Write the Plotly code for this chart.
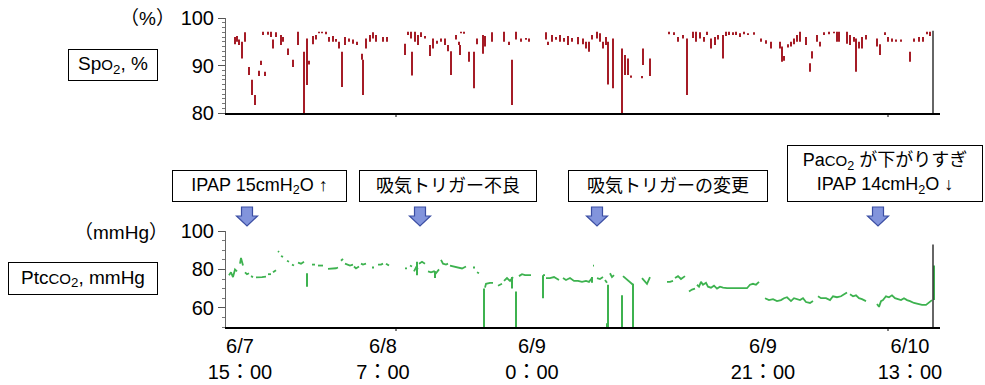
import plotly.graph_objects as go

# ---------------- data ----------------
# time axis: sample position (0 = start of record, 707 = end of record)
tick_pos = [14, 157, 306, 537, 684]
tick_text = ["6/7<br>15：00", "6/8<br>7：00", "6/9<br>0：00", "6/9<br>21：00", "6/10<br>13：00"]
tick_marks = [170, 662]
record_end = 707

# SpO2 (%): each reading drawn as a vertical range (t, low, high)
spo2_t = [9, 11, 13, 16, 19, 23, 26, 29, 33, 35, 37, 39, 42, 45, 47, 50, 55, 57, 62, 67,
          72, 78, 81, 83, 87, 90, 93, 96, 100, 103, 107, 110, 113, 116, 119, 123, 127, 131, 136, 137,
          140, 144, 147, 150, 157, 161, 179, 182, 185, 186, 189, 192, 195, 199, 204, 207, 211, 215, 219, 222,
          225, 230, 233, 234, 235, 238, 243, 248, 251, 257, 259, 266, 278, 283, 286, 290, 295, 300, 303, 320,
          322, 326, 330, 334, 338, 342, 346, 352, 357, 360, 363, 366, 371, 374, 377, 380, 382, 387, 396, 399,
          402, 405, 416, 417, 424, 443, 448, 452, 457, 461, 467, 470, 474, 478, 481, 485, 489, 492, 497, 500,
          503, 507, 510, 514, 518, 522, 528, 535, 540, 545, 554, 556, 558, 562, 565, 568, 571, 574, 580, 584,
          586, 591, 594, 598, 603, 608, 611, 613, 621, 624, 628, 630, 633, 636, 640, 651, 654, 659, 662, 666,
          670, 675, 684, 688, 693, 697, 701, 704]
spo2_low = [94.5, 95.0, 94.3, 91.5, 95.0, 88.0, 83.8, 81.7, 87.8, 90.1, 96.4, 87.8, 96.5, 96.0, 93.6, 96.0, 94.3, 95.0, 92.2, 89.7,
            94.3, 80.0, 85.9, 90.2, 94.5, 95.5, 96.8, 96.8, 96.6, 95.0, 95.0, 95.0, 93.6, 85.5, 94.3, 95.0, 94.6, 94.3, 91.2, 83.8,
            93.6, 95.0, 95.7, 95.0, 95.0, 95.0, 92.2, 96.4, 95.7, 87.9, 95.0, 94.3, 96.0, 95.7, 92.0, 93.6, 94.6, 95.0, 94.3, 93.0,
            88.0, 95.5, 94.3, 92.2, 96.8, 96.7, 90.8, 85.2, 94.5, 92.5, 94.0, 95.0, 95.0, 94.3, 81.7, 95.5, 95.0, 95.4, 95.0, 95.5,
            94.3, 95.0, 95.4, 95.0, 95.0, 94.3, 95.0, 94.5, 94.5, 93.6, 92.9, 95.5, 95.7, 95.0, 93.6, 94.3, 86.0, 85.2, 80.0, 88.0,
            88.0, 87.4, 87.3, 90.1, 87.8, 96.6, 96.4, 95.0, 95.7, 83.8, 95.8, 95.0, 95.7, 95.0, 96.4, 93.6, 94.3, 95.5, 91.5, 96.2,
            96.4, 96.4, 96.4, 96.0, 96.6, 96.4, 96.5, 95.0, 94.6, 93.6, 93.6, 90.8, 91.0, 93.8, 94.0, 94.5, 95.0, 95.0, 94.3, 88.7,
            91.5, 95.0, 94.0, 96.4, 96.6, 96.8, 95.0, 95.0, 94.6, 94.3, 95.0, 88.7, 93.6, 93.6, 95.5, 94.0, 92.2, 96.4, 95.0, 95.0,
            95.0, 95.0, 90.8, 95.0, 95.0, 95.0, 96.6, 96.2]
spo2_high = [96.0, 96.2, 95.5, 95.0, 97.0, 89.7, 87.0, 83.8, 88.9, 91.0, 97.1, 88.7, 97.1, 97.1, 95.5, 97.0, 96.4, 96.0, 93.6, 91.2,
             97.1, 92.9, 95.7, 91.0, 96.2, 96.4, 97.1, 97.1, 97.1, 96.0, 96.2, 95.6, 95.0, 92.9, 96.0, 95.7, 95.5, 95.0, 92.5, 91.2,
             95.7, 96.4, 97.0, 96.4, 96.0, 96.0, 94.6, 97.1, 97.1, 92.9, 97.1, 96.4, 97.0, 96.2, 94.3, 95.7, 95.2, 95.7, 95.7, 94.3,
             93.0, 96.4, 95.0, 94.3, 97.1, 97.1, 92.9, 92.9, 95.7, 96.4, 96.2, 97.0, 97.1, 95.0, 91.2, 97.1, 95.7, 95.8, 95.7, 97.0,
             95.0, 96.4, 96.0, 96.4, 95.8, 96.2, 95.8, 96.0, 95.7, 95.0, 95.0, 96.4, 97.1, 96.8, 95.0, 96.0, 95.0, 95.7, 93.6, 92.2,
             91.5, 87.9, 87.8, 93.6, 91.5, 97.1, 97.0, 96.0, 96.4, 95.7, 97.1, 97.1, 97.0, 96.0, 97.1, 95.7, 96.0, 96.4, 96.4, 97.1,
             97.1, 97.0, 97.1, 96.8, 97.1, 96.8, 97.0, 95.7, 95.3, 95.0, 95.0, 94.0, 92.0, 94.5, 95.0, 95.7, 96.4, 97.1, 96.0, 90.5,
             93.0, 96.4, 95.0, 97.0, 97.1, 97.1, 97.1, 97.1, 97.1, 96.4, 96.0, 95.7, 95.0, 96.0, 96.4, 95.7, 94.5, 97.0, 96.0, 95.7,
             95.5, 95.5, 92.9, 95.7, 96.0, 96.0, 97.1, 97.1]

# PtcCO2 (mmHg): (t, value) readings, None = gap in the recording
ptc_points = [
    (3, 77), (5, 78.5), (7, 76), (9, 80), (11, 79), None,
    (14, 83), (15, 86), (16, 84), (17, 82), None,
    (19, 78.5), (21, 77.5), (23, 78), None,
    (25, 76.5), (27, 76), None,
    (30, 75.8), (34, 75.8), (36, 76), (40, 76.2), None,
    (42, 77.5), (45, 77.5), None,
    (47, 78.5), (50, 79.5), None,
    (52, 89.5), (53, 89), None,
    (55, 87), (57, 86.5), None,
    (61, 84.5), (63, 84), None,
    (66, 82.5), (68, 82), None,
    (72, 83.5), (75, 83), (78, 84), None,
    (86, 82.5), (89, 82.5), None,
    (92, 82), (97, 82), None,
    (102, 80.3), (107, 80.3), (110, 80.6), (112, 81), None,
    (115, 84.5), (117, 85.5), None,
    (119, 83), (121, 82.5), (124, 82), (127, 82.5), None,
    (128, 81.5), (130, 80.5), (133, 81.5), None,
    (135, 83), (137, 82.5), (140, 83), None,
    (146, 81), (148, 81), None,
    (152, 82.5), (155, 82.5), (157, 83), None,
    (160, 83), (163, 82), None,
    (179, 80.5), (181, 80.5), None,
    (184, 82), (186, 81.5), None,
    (188, 79), (190, 81), (192, 80), None,
    (193, 83), (196, 84), (199, 83), None,
    (202, 79), (205, 78.5), (208, 79), (210, 78), (213, 80), None,
    (215, 85), (217, 83), (220, 82.5), (222, 83), None,
    (224, 82), (228, 81.5), (232, 81), (236, 80.5), (240, 81.5), None,
    (247, 81), (249, 81), None,
    (251, 78.5), (253, 78), None,
    (259, 70.5), (260, 72.5), (264, 73), (267, 73), None,
    (272, 71.5), (276, 72.5), None,
    (278, 74), (281, 75.5), (284, 74), (287, 76), None,
    (293, 76.5), (296, 77.5), (299, 77), (302, 77), (305, 77), None,
    (317, 77), (319, 77), None,
    (320, 75.5), (324, 75.5), (328, 76), (331, 75), (333, 74.5), None,
    (337, 75.5), (340, 74.5), (344, 75.5), (348, 74), (352, 74), (356, 73.5), (360, 74), (363, 73.5), (366, 75.5), None,
    (367, 82), (368, 82), None,
    (371, 75.5), (374, 75), (377, 76), None,
    (379, 74.5), (381, 73), None,
    (384, 78), (386, 76), (388, 77), None,
    (397, 76.5), (400, 75), (403, 74), (407, 72), None,
    (416, 75.5), (419, 74), (421, 72.5), (424, 76), None,
    (441, 73.5), (444, 73.5), (447, 74), None,
    (449, 75.5), (452, 76.5), (455, 75), (459, 76.5), None,
    (463, 68.5), (466, 69.5), (469, 70), None,
    (471, 72), (473, 71), (475, 73.5), (477, 72), (480, 73), (482, 71), (485, 70.5), (488, 71.5), (491, 70),
    (494, 71), (497, 70.5), (501, 70.2), (510, 70.2), (521, 70.2), (524, 72), (527, 72.5), (530, 72), (533, 73.5), None,
    (539, 65), (543, 64), (547, 64.5), (551, 63.5), (555, 64), (558, 65), (561, 65.5), (565, 63.5), (568, 65),
    (571, 64.5), (574, 64), (577, 65), (580, 63), (584, 62.5), (587, 63.5), None,
    (592, 66), (595, 65), (600, 65), (604, 64), (607, 66), (611, 65.5), (615, 66), (618, 67), (621, 68), None,
    (624, 67), (627, 66), (630, 66.5), (633, 65), (636, 64.5), (640, 63.5), None,
    (651, 62), (653, 60.5), (655, 63.5), (657, 64), (660, 66), (663, 65.5), (666, 66.5), (669, 65), (672, 64.5),
    (675, 64), (678, 65), (681, 64), (684, 63.5), (688, 62.5), (692, 62), (696, 61.5), (700, 61.5), (703, 63), (706, 64),
]
# PtcCO2 sudden drops (sensor artefacts), vertical ranges
ptc_drop_t = [81, 191, 209, 258, 286, 290, 317, 366, 381, 382, 396, 407, 708]
ptc_drop_low = [71, 77, 75.5, 50, 70, 50, 65, 73, 50, 50, 50, 50, 64]
ptc_drop_high = [78, 84, 79, 70, 76, 68.5, 77, 76, 52, 72, 66.5, 72.5, 82]

# events (interventions)
event_t = [21, 194, 371, 652]
event_text = [
    "IPAP 15cmH<sub>2</sub>O ↑",
    "吸気トリガー不良",
    "吸気トリガーの変更",
    "Pa<span style='font-size:15px'>CO</span><sub>2</sub> が下がりすぎ<br>IPAP 14cmH<sub>2</sub>O ↓",
]

# ---------------- build ----------------
def seg_xy(ts, lows, highs):
    xs, ys = [], []
    for t, lo, hi in zip(ts, lows, highs):
        xs += [t, t, None]
        ys += [lo, hi, None]
    return xs, ys

RED = "#a51c26"
GREEN = "#3db24f"
FONT = "Liberation Sans, Noto Sans CJK JP, sans-serif"

fig = go.Figure()
sx, sy = seg_xy(spo2_t, spo2_low, spo2_high)
fig.add_trace(go.Scatter(x=sx, y=sy, mode="lines", line=dict(color=RED, width=2),
                         xaxis="x", yaxis="y", hoverinfo="skip"))

px_ = [p[0] if p else None for p in ptc_points]
py_ = [p[1] if p else None for p in ptc_points]
fig.add_trace(go.Scatter(x=px_, y=py_, mode="lines", line=dict(color=GREEN, width=1.8),
                         xaxis="x2", yaxis="y2", connectgaps=False, hoverinfo="skip"))
dx, dy = seg_xy(ptc_drop_t, ptc_drop_low, ptc_drop_high)
fig.add_trace(go.Scatter(x=dx, y=dy, mode="lines", line=dict(color=GREEN, width=2),
                         xaxis="x2", yaxis="y2", hoverinfo="skip"))

TOP_BOT = 1 - 95 / 309
BOT_TOP = 1 - 213 / 309

axis_common = dict(showgrid=False, zeroline=False, automargin=False)
fig.update_layout(
    width=985, height=385,
    margin=dict(l=226, r=45, t=18, b=58),
    paper_bgcolor="white", plot_bgcolor="white",
    showlegend=False,
    font=dict(family=FONT, color="black", size=20),
    xaxis=dict(range=[0, 714], anchor="y", showline=True, linecolor="black", linewidth=2,
               showticklabels=False, ticks="", **axis_common),
    xaxis2=dict(range=[0, 714], anchor="y2", showline=True, linecolor="black", linewidth=2,
                tickmode="array", tickvals=tick_pos, ticktext=tick_text, ticks="",
                tickfont=dict(size=20, family=FONT), ticklabelstandoff=0, **axis_common),
    yaxis=dict(domain=[TOP_BOT, 1], range=[80, 100], tickmode="array", tickvals=[80, 90, 100],
               ticks="outside", ticklen=7, tickcolor="#555", showline=True, linecolor="#666", linewidth=1,
               tickfont=dict(size=20),
               minor=dict(tickmode="linear", tick0=80, dtick=1, ticks="outside", ticklen=3, tickcolor="#777"),
               **axis_common),
    yaxis2=dict(domain=[0, BOT_TOP], range=[50, 100], tickmode="array", tickvals=[60, 80, 100],
                ticks="outside", ticklen=7, tickcolor="#555", showline=True, linecolor="#666", linewidth=1,
                tickfont=dict(size=20),
                minor=dict(tickmode="linear", tick0=50, dtick=5, ticks="outside", ticklen=3, tickcolor="#777"),
                **axis_common),
)

shapes = []
# tick marks on the time axes
for t in tick_marks:
    shapes.append(dict(type="line", xref="x", yref="paper", x0=t, x1=t, y0=TOP_BOT, y1=TOP_BOT - 4 / 309,
                       line=dict(color="black", width=1)))
    shapes.append(dict(type="line", xref="x2", yref="paper", x0=t, x1=t, y0=0, y1=-4 / 309,
                       line=dict(color="black", width=1)))
# end-of-record lines
shapes.append(dict(type="line", xref="x", yref="y", x0=record_end, x1=record_end, y0=80, y1=97.3,
                   line=dict(color="#333", width=1.5)))
shapes.append(dict(type="line", xref="x2", yref="y2", x0=record_end, x1=record_end, y0=50, y1=93,
                   line=dict(color="#333", width=1.5)))
# block arrows under event boxes
y0 = 1 - (207 - 18) / 309
y1 = 1 - (216 - 18) / 309
y2 = 1 - (226 - 18) / 309
for t in event_t:
    path = (f"M {t-5.5},{y0} L {t+5.5},{y0} L {t+5.5},{y1} L {t+10.5},{y1} "
            f"L {t},{y2} L {t-10.5},{y1} L {t-5.5},{y1} Z")
    shapes.append(dict(type="path", xref="x", yref="paper", path=path,
                       fillcolor="#8294dc", line=dict(color="#3b4ea3", width=1.2)))
fig.update_layout(shapes=shapes)

def px2x(p):
    return (p - 226) / 714

def py2y(p):
    return 1 - (p - 18) / 309

C = dict(xref="paper", yref="paper", xanchor="center", yanchor="middle", showarrow=False)
ann = []
ann.append(dict(text="（%）", x=px2x(147), y=py2y(18), font=dict(size=19), **C))
ann.append(dict(text="（mmHg）", x=px2x(121), y=py2y(233), font=dict(size=19), **C))
ann.append(dict(text="Sp<span style='font-size:15px'>O</span><sub>2</sub>, %", x=px2x(113), y=py2y(65),
                font=dict(size=19), bordercolor="black", borderwidth=1, borderpad=2,
                width=84, height=26, bgcolor="white", **C))
ann.append(dict(text="Ptc<span style='font-size:15px'>CO</span><sub>2</sub>, mmHg", x=px2x(83), y=py2y(278.5),
                font=dict(size=19), bordercolor="black", borderwidth=1, borderpad=2,
                width=144, height=27, bgcolor="white", **C))

box_cx = [259.5, 448, 668, 885]
box_cy = [186, 186, 186, 173.5]
box_w = [175, 178, 200, 196]
box_h = [32, 32, 32, 57]
for txt, cx, cy, w, h in zip(event_text, box_cx, box_cy, box_w, box_h):
    ann.append(dict(text=txt, x=px2x(cx), y=py2y(cy), font=dict(size=18),
                    bordercolor="black", borderwidth=1, borderpad=2,
                    width=w - 6, height=h - 6, bgcolor="white", **C))
fig.update_layout(annotations=ann)

fig.write_html("out.html", config={"displayModeBar": False},
               post_script="document.body.style.margin='0';document.body.style.padding='0';")
